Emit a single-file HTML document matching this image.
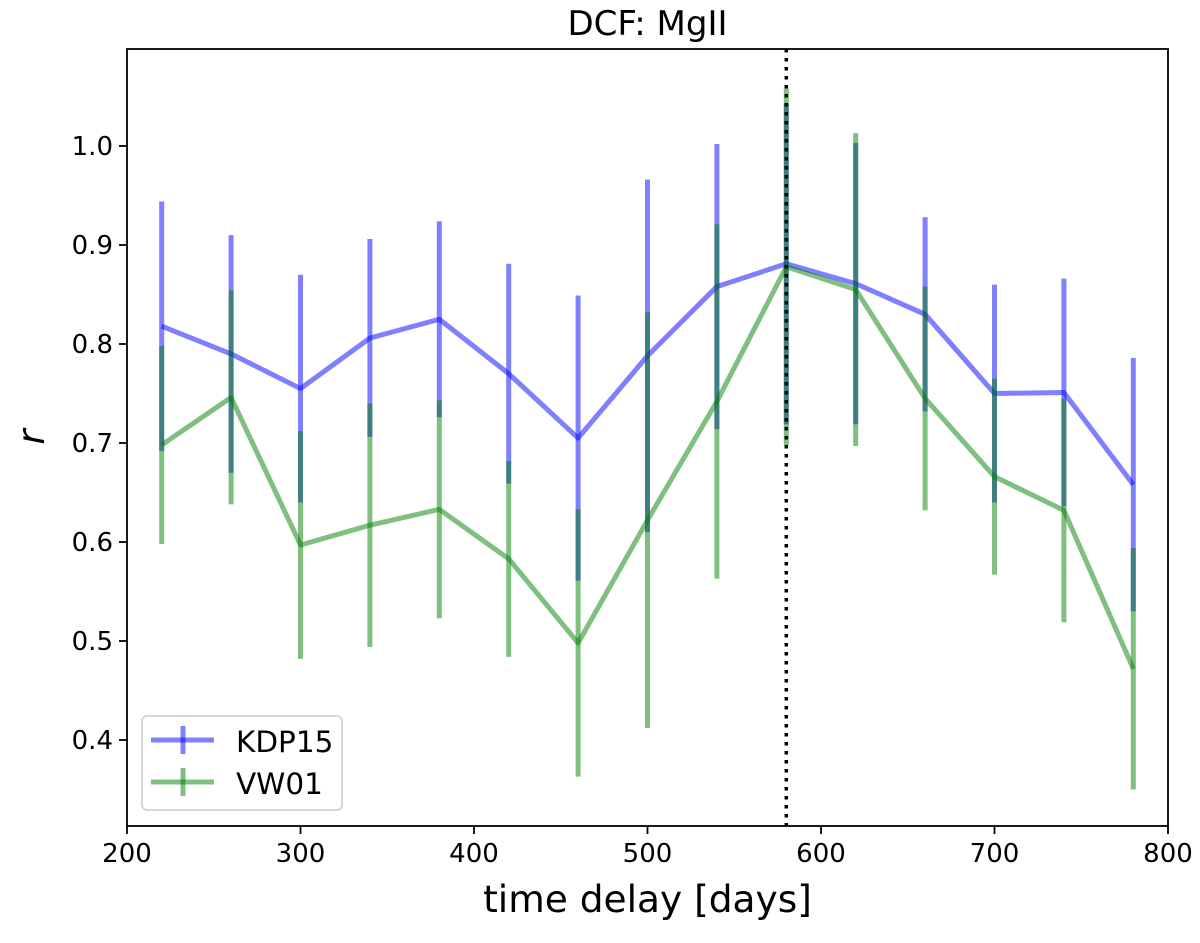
<!DOCTYPE html>
<html><head><meta charset="utf-8"><style>
body{margin:0;background:#fff;}
svg text{font-family:"DejaVu Sans","Liberation Sans",sans-serif;}
</style></head><body>
<svg id="chart" width="1200" height="938" xmlns="http://www.w3.org/2000/svg">
<g id="g"></g>
</svg>
<script>
const delays=[220,260,300,340,380,420,460,500,540,580,620,660,700,740,780];
const kdpValues=[0.818,0.790,0.755,0.806,0.825,0.770,0.705,0.788,0.858,0.881,0.861,0.830,0.750,0.751,0.658];
const kdpErrors=[0.126,0.120,0.115,0.100,0.099,0.111,0.144,0.178,0.144,0.162,0.142,0.098,0.110,0.115,0.128];
const vwValues=[0.698,0.746,0.597,0.617,0.633,0.583,0.498,0.622,0.742,0.878,0.855,0.745,0.666,0.632,0.472];
const vwErrors=[0.100,0.108,0.115,0.123,0.110,0.099,0.135,0.210,0.179,0.180,0.158,0.113,0.099,0.113,0.122];
const xTicks=[200,300,400,500,600,700,800];
const yTicks=[0.4,0.5,0.6,0.7,0.8,0.9,1.0];
const peakDelay=580;

const L=127,R=1168,T=49,B=826;
const X=v=>L+(v-200)*(R-L)/600;
const Y=v=>146+(1.0-v)*990;
const g=document.getElementById('g');
const NS='http://www.w3.org/2000/svg';
function el(tag,attrs,name,text){const e=document.createElementNS(NS,tag);for(const k in attrs)e.setAttribute(k,attrs[k]);


if(text!==undefined)e.textContent=text;g.appendChild(e);return e;}

function series(vals,errs,color,name){
  vals.forEach((v,i)=>{el('line',{x1:X(delays[i]),x2:X(delays[i]),y1:Y(v-errs[i]),y2:Y(v+errs[i]),stroke:color,'stroke-width':5,'stroke-opacity':0.5},name+'-errorbar');});
  el('polyline',{points:vals.map((v,i)=>X(delays[i])+','+Y(v)).join(' '),fill:'none',stroke:color,'stroke-width':5,'stroke-opacity':0.5,'stroke-linejoin':'round'},name+'-line');
}
series(kdpValues,kdpErrors,'#0000ff','kdp15');
series(vwValues,vwErrors,'#008000','vw01');

el('line',{x1:X(peakDelay),x2:X(peakDelay),y1:T,y2:B,stroke:'#000','stroke-width':3.5,'stroke-dasharray':'3.5,5.5'},'peak-delay-line');
el('rect',{x:L,y:T,width:R-L,height:B-T,fill:'none',stroke:'#000','stroke-width':1.8},'plot-frame');

xTicks.forEach(t=>{el('line',{x1:X(t),x2:X(t),y1:B,y2:B+8,stroke:'#000','stroke-width':1.8},'x-tick');
el('text',{x:X(t),y:B+36,'font-size':26,'text-anchor':'middle'},'x-tick-label',String(t));});
yTicks.forEach(t=>{el('line',{x1:L-8,x2:L,y1:Y(t),y2:Y(t),stroke:'#000','stroke-width':1.8},'y-tick');
el('text',{x:L-14,y:Y(t)+9,'font-size':26,'text-anchor':'end'},'y-tick-label',t.toFixed(1));});

el('text',{x:(L+R)/2,y:912,'font-size':37.5,'text-anchor':'middle'},'x-axis-title','time delay [days]');
el('text',{x:44,y:437,'font-size':37,'text-anchor':'middle','font-style':'italic',transform:'rotate(-90 44 437)'},'y-axis-title','r');
el('text',{x:(L+R)/2,y:35,'font-size':34,'text-anchor':'middle'},'chart-title','DCF: MgII');

el('rect',{x:142,y:716,width:200,height:94,rx:5,fill:'#fff','fill-opacity':0.8,stroke:'#ccc','stroke-width':1.5},'legend-box');
el('line',{x1:151,x2:214,y1:740,y2:740,stroke:'#0000ff','stroke-width':5,'stroke-opacity':0.5},'legend-kdp15-line');
el('line',{x1:183,x2:183,y1:726,y2:754,stroke:'#0000ff','stroke-width':5,'stroke-opacity':0.5},'legend-kdp15-bar');
el('text',{x:236,y:752,'font-size':29.5},'legend-kdp15-label','KDP15');
el('line',{x1:151,x2:214,y1:782,y2:782,stroke:'#008000','stroke-width':5,'stroke-opacity':0.5},'legend-vw01-line');
el('line',{x1:183,x2:183,y1:768,y2:796,stroke:'#008000','stroke-width':5,'stroke-opacity':0.5},'legend-vw01-bar');
el('text',{x:236,y:794,'font-size':29.5},'legend-vw01-label','VW01');
</script>
</body></html>
